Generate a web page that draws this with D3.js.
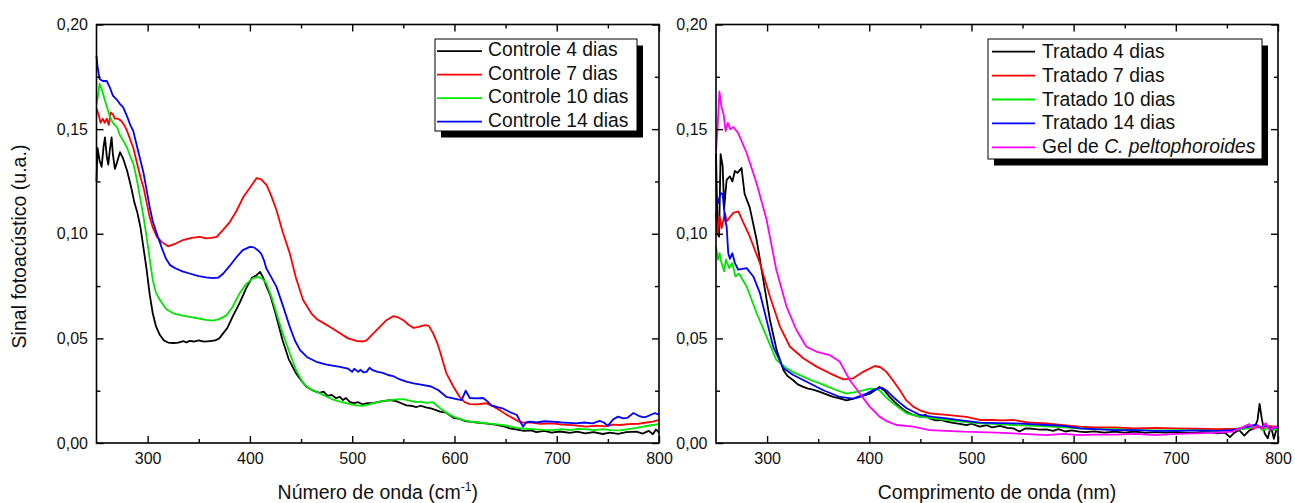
<!DOCTYPE html>
<html lang='pt'>
<head>
  <meta charset='UTF-8'>
  <title>Sinal fotoacústico</title>
  <script src='https://d3js.org/d3.v7.min.js'></script>
  <style>
    body { margin: 0; background: #fff; }
    svg { font-family: 'Liberation Sans', Arial, sans-serif; }
  </style>
</head>
<body>
  <svg width='1295' height='503'></svg>

  <script>
    // [x, sinal]
    var controle4 = [[250,0.125],[251,0.141],[253,0.135],[255,0.132],[257,0.142],[258.3,0.146],[260,0.137],[261.5,0.133],[263,0.14],[264.8,0.146],[266,0.138],[268,0.131],[270,0.134],[273,0.139],[276,0.136],[280,0.130],[284,0.122],[287,0.115],[290,0.110],[293,0.103],[296,0.093],[299,0.083],[302,0.071],[305,0.062],[308,0.056],[312,0.0516],[316,0.049],[320,0.048],[325,0.0478],[330,0.048],[335,0.0487],[338,0.048],[341,0.0488],[345,0.0485],[350,0.049],[355,0.0484],[361,0.0487],[366,0.049],[370,0.050],[374,0.0525],[378,0.055],[383,0.0603],[390,0.067],[397,0.0746],[402,0.079],[406,0.080],[410,0.0818],[413,0.079],[416,0.075],[420,0.0705],[425,0.062],[432,0.049],[438,0.040],[445,0.0334],[450,0.030],[455,0.027],[462,0.025],[468,0.024],[472,0.0245],[476,0.0225],[480,0.023],[484,0.0215],[488,0.022],[491,0.0205],[494,0.0215],[498,0.0195],[502,0.019],[506,0.0195],[510,0.0185],[515,0.019],[520,0.019],[525,0.0195],[530,0.020],[537,0.0205],[543,0.020],[548,0.019],[553,0.018],[558,0.0178],[563,0.0172],[567,0.0178],[572,0.017],[577,0.0165],[582,0.0157],[586,0.015],[592,0.0145],[599,0.012],[605,0.0115],[610,0.0105],[615,0.0102],[622,0.0098],[630,0.0094],[640,0.0088],[648,0.008],[654,0.007],[660,0.0065],[668,0.0058],[675,0.006],[680,0.0052],[688,0.0058],[695,0.005],[703,0.0055],[713,0.0048],[720,0.0054],[728,0.0046],[736,0.0052],[745,0.0043],[752,0.005],[760,0.0044],[768,0.0052],[778,0.0054],[784,0.0045],[790,0.0058],[794,0.0042],[797,0.0065],[800,0.005]];
    var controle7 = [[250,0.160],[252,0.157],[254,0.153],[256,0.155],[258,0.153],[260,0.155],[262,0.152],[264,0.158],[266,0.157],[268,0.155],[271,0.155],[274,0.154],[277,0.152],[280,0.149],[283,0.145],[286,0.141],[290,0.133],[293,0.127],[296,0.122],[299,0.115],[302,0.108],[305,0.103],[309,0.0985],[314,0.096],[320,0.094],[326,0.095],[334.6,0.097],[343,0.098],[351,0.0985],[357,0.0978],[362,0.098],[367.5,0.0985],[374,0.102],[380.5,0.1057],[387,0.111],[393.6,0.1176],[400,0.122],[406.6,0.1266],[411,0.126],[416.4,0.1232],[421,0.118],[426,0.1112],[432,0.101],[439,0.0906],[445,0.079],[452,0.0683],[460,0.062],[466,0.059],[472,0.0573],[480,0.055],[488,0.0525],[496,0.050],[504,0.0488],[510,0.0485],[514,0.049],[520,0.052],[527,0.0555],[533,0.0585],[540,0.0606],[545,0.060],[550,0.0587],[555,0.0565],[560,0.055],[565,0.0555],[571,0.0563],[575,0.056],[579,0.0525],[583,0.048],[586,0.0435],[592,0.0334],[599,0.0269],[605,0.0221],[610,0.0195],[615,0.0186],[622,0.0185],[631,0.019],[638,0.0175],[644,0.0158],[650,0.0138],[657,0.0119],[662,0.0105],[667,0.0097],[675,0.0098],[684,0.0092],[696,0.0094],[705,0.0088],[715,0.0085],[729,0.0078],[738,0.0083],[748,0.0079],[755,0.0088],[762,0.0086],[770,0.009],[780,0.0092],[788,0.0098],[794,0.0102],[800,0.011]];
    var controle10 = [[250,0.162],[251.5,0.166],[253,0.1717],[255,0.169],[257,0.166],[258,0.164],[260,0.161],[263,0.156],[266,0.153],[270,0.151],[273,0.147],[276,0.1446],[280,0.141],[283,0.137],[286,0.1335],[289,0.127],[292.5,0.1176],[296,0.108],[299,0.0985],[302,0.088],[305,0.078],[308,0.072],[312,0.0683],[318,0.064],[325,0.062],[333,0.061],[341,0.0603],[350,0.0595],[357,0.0588],[364,0.0585],[370,0.0592],[377,0.061],[383,0.065],[390,0.0716],[396,0.0758],[403,0.0788],[408,0.0794],[412,0.0785],[416,0.0764],[421,0.070],[426,0.062],[432,0.0525],[439,0.0429],[445,0.035],[452,0.0286],[458,0.026],[465,0.0245],[472,0.0229],[480,0.021],[488,0.0198],[496,0.0188],[504,0.018],[510,0.0178],[515,0.0182],[520,0.019],[527,0.0198],[533,0.0202],[537,0.0205],[543,0.0208],[550,0.021],[556,0.0202],[562,0.0195],[567,0.0198],[573,0.0192],[579,0.0195],[586,0.0166],[592,0.0145],[599,0.0126],[607,0.0112],[615,0.0102],[623,0.0098],[631,0.0094],[639,0.009],[647,0.0086],[655,0.0078],[664,0.007],[672,0.0068],[680,0.0065],[688,0.0063],[696,0.0062],[705,0.0066],[713,0.0062],[721,0.0068],[729,0.0065],[737,0.0062],[745,0.0066],[753,0.0062],[762,0.006],[770,0.0066],[778,0.0072],[786,0.008],[794,0.0086],[800,0.009]];
    var controle14 = [[250,0.185],[251,0.180],[253,0.174],[256,0.173],[260,0.173],[263,0.170],[266,0.166],[270,0.164],[273,0.162],[276,0.1605],[280,0.156],[283,0.152],[286,0.149],[290,0.141],[293,0.135],[296,0.129],[299,0.121],[302,0.1128],[305,0.106],[309,0.100],[314,0.093],[318,0.088],[322,0.085],[327,0.0835],[334,0.082],[341,0.081],[350,0.0798],[357,0.0792],[364,0.0788],[369,0.079],[374,0.081],[380,0.0845],[387,0.0889],[393,0.0922],[400,0.0937],[404,0.0935],[408,0.092],[411,0.0905],[414,0.087],[416,0.0835],[420,0.080],[426,0.0746],[432,0.066],[439,0.0555],[444,0.049],[449,0.0444],[456,0.041],[465,0.0388],[475,0.0375],[488,0.0364],[496,0.0355],[500,0.034],[502,0.0355],[506,0.034],[508,0.035],[511,0.0338],[514,0.034],[517,0.036],[520,0.0348],[525,0.034],[530,0.0335],[535,0.0325],[540,0.032],[546,0.0305],[553,0.0293],[560,0.0285],[570,0.0277],[577,0.027],[584,0.0253],[592,0.0221],[602,0.021],[607,0.0205],[611,0.025],[615,0.0215],[622,0.0213],[628,0.0215],[632,0.020],[636,0.018],[642,0.0172],[647,0.0166],[654,0.0148],[661,0.0134],[664,0.0105],[667,0.0078],[670,0.0098],[674,0.0102],[680,0.0098],[688,0.0104],[696,0.0102],[705,0.0098],[712,0.0096],[719,0.0094],[727,0.0098],[735,0.0094],[742,0.0106],[746,0.0098],[750,0.0082],[755,0.0112],[760,0.0126],[765,0.0118],[769,0.012],[775,0.0143],[780,0.013],[785,0.0122],[788,0.0126],[792,0.0135],[796,0.0143],[800,0.0135]];

    var tratado4 = [[250,0.1386],[251.6,0.100],[253,0.0986],[254.5,0.138],[256.5,0.1323],[258,0.1122],[260.4,0.1258],[263.6,0.1274],[266,0.125],[268.5,0.130],[271,0.1291],[275,0.1314],[278,0.119],[283,0.1126],[289.8,0.097],[296.3,0.078],[302.8,0.0588],[309.4,0.0444],[316,0.0348],[320,0.032],[325.6,0.030],[330,0.028],[335.4,0.0268],[340,0.026],[345,0.0255],[351.7,0.0244],[358,0.0232],[364.7,0.022],[370,0.0215],[377.8,0.0204],[383,0.021],[390.8,0.022],[400.5,0.0236],[405,0.025],[410,0.0268],[415,0.025],[420,0.022],[425,0.0195],[430,0.0174],[436,0.015],[443,0.0134],[450,0.0125],[455,0.0135],[459,0.0118],[465,0.0108],[470,0.011],[475.7,0.0102],[482,0.0096],[490,0.009],[495,0.0085],[500,0.0092],[508,0.0078],[515,0.0085],[520,0.0075],[528,0.0082],[535,0.0072],[541,0.007],[547,0.0055],[553,0.007],[560,0.0068],[567,0.0064],[573,0.0065],[580,0.0058],[585,0.0066],[592,0.0055],[598,0.006],[605.6,0.0054],[612,0.0052],[620,0.0056],[630,0.005],[640,0.0054],[650,0.005],[660,0.0055],[670,0.0048],[680,0.0052],[690,0.005],[700,0.0053],[710,0.0048],[720,0.005],[730,0.0055],[740,0.0046],[748,0.005],[753,0.0028],[757,0.0048],[762,0.0062],[767,0.0035],[772,0.006],[777,0.0072],[780,0.011],[782,0.0187],[784,0.012],[787,0.0045],[790,0.0023],[793,0.008],[796,0.002],[799,0.0075],[800,0.0065]];
    var tratado7 = [[250,0.1107],[251.6,0.100],[253.5,0.1083],[255.5,0.1027],[258.8,0.110],[260.4,0.1059],[263.6,0.108],[267,0.110],[271.8,0.1107],[277,0.1051],[283,0.0987],[293,0.0859],[302.8,0.070],[312.6,0.0556],[322.4,0.046],[335.4,0.0405],[348.4,0.0365],[361.5,0.0333],[374.5,0.0304],[384.3,0.0309],[394,0.034],[405.4,0.0368],[411,0.0362],[416.8,0.034],[423,0.030],[430,0.0252],[436,0.0205],[443,0.0174],[450,0.0155],[459,0.0142],[467,0.0138],[475.7,0.0134],[485,0.013],[495,0.0125],[508,0.011],[520,0.011],[530,0.0108],[541,0.011],[555,0.0098],[573,0.0094],[590,0.0085],[605.6,0.0078],[620,0.0074],[640,0.0074],[660,0.007],[680,0.0072],[700,0.007],[720,0.0068],[740,0.0066],[760,0.0068],[780,0.0075],[790,0.008],[800,0.0078]];
    var tratado10 = [[250,0.0939],[252,0.0876],[253.5,0.0907],[255,0.0868],[258,0.082],[259.7,0.0876],[263,0.0836],[266,0.086],[269,0.0796],[272.5,0.081],[280,0.0748],[289.8,0.062],[299.5,0.0508],[309,0.0397],[319,0.0357],[327,0.0335],[335.4,0.0317],[343,0.030],[351.7,0.0285],[360,0.0268],[368,0.0252],[377.8,0.0236],[387.6,0.0244],[394,0.0252],[400.5,0.026],[405,0.0258],[410,0.0252],[416,0.022],[423.4,0.019],[430,0.0165],[436.5,0.0142],[449.5,0.0126],[462,0.0118],[475.7,0.011],[490,0.0102],[508,0.0094],[525,0.009],[541,0.0086],[555,0.0083],[573,0.008],[590,0.0075],[605.6,0.007],[620,0.0066],[640,0.0066],[660,0.0062],[680,0.006],[700,0.0062],[720,0.006],[740,0.0058],[755,0.006],[765,0.0066],[775,0.0075],[780,0.0085],[785,0.006],[790,0.0072],[795,0.0062],[800,0.0068]];
    var tratado14 = [[250,0.1163],[252,0.1147],[254.5,0.1195],[256.5,0.119],[258.8,0.1067],[260.4,0.1036],[262,0.0907],[263.6,0.088],[266,0.0907],[268.5,0.086],[271.8,0.0828],[280,0.0836],[286.5,0.0796],[293,0.0716],[299.5,0.0588],[306,0.046],[316,0.0357],[325.6,0.0325],[338.7,0.0293],[355,0.0252],[371.3,0.022],[384.3,0.0212],[397.3,0.0236],[405,0.0255],[412,0.0265],[417,0.025],[423.4,0.022],[430,0.0192],[436.5,0.0166],[449.5,0.0134],[462,0.0125],[475.7,0.0118],[490,0.0108],[508,0.0097],[525,0.0095],[541,0.0094],[557,0.009],[573,0.0086],[590,0.0082],[605.6,0.007],[620,0.0066],[640,0.0062],[660,0.0062],[680,0.0058],[700,0.0058],[720,0.006],[740,0.0058],[755,0.0062],[765,0.0072],[772,0.008],[778,0.0088],[783,0.0075],[788,0.0082],[793,0.0068],[800,0.0078]];
    var gel = [[250,0.1394],[251.5,0.15],[253.3,0.168],[255.5,0.1603],[257.5,0.157],[259.4,0.149],[261.5,0.153],[264,0.15],[267,0.151],[271.8,0.148],[280,0.1386],[289.8,0.124],[299.5,0.1067],[309,0.0828],[319,0.0652],[328.7,0.054],[338.5,0.046],[348,0.0437],[361,0.042],[371,0.0389],[381,0.030],[390.6,0.0238],[400.4,0.0174],[410,0.0126],[418,0.0102],[426.6,0.0086],[443,0.0078],[459,0.0062],[475,0.0058],[492,0.0054],[508,0.0052],[524.5,0.005],[540,0.0046],[555,0.0042],[573,0.0038],[590,0.0044],[605.6,0.0038],[620,0.004],[640,0.004],[660,0.0044],[680,0.0038],[700,0.0044],[720,0.0046],[740,0.005],[755,0.0054],[765,0.0075],[772,0.009],[776,0.0065],[780,0.0085],[784,0.0068],[788,0.0095],[792,0.0062],[796,0.0078],[800,0.007]];

    var xTicks = [300, 400, 500, 600, 700, 800];
    var xMinor = [350, 450, 550, 650, 750];
    var yTicks = [0, 0.05, 0.10, 0.15, 0.20];
    var yMinor = [0.025, 0.075, 0.125, 0.175];

    var leftNames = ['Controle 4 dias', 'Controle 7 dias', 'Controle 10 dias', 'Controle 14 dias'];
    var rightNames = ['Tratado 4 dias', 'Tratado 7 dias', 'Tratado 10 dias', 'Tratado 14 dias', 'Gel de C. peltophoroides'];
    var colors = ['#000000', '#ff0000', '#00e600', '#0000ff', '#ff00ff'];

    var svg = d3.select('svg');
    var fmt = d => d3.format('.2f')(d).replace('.', ',');

    function panel(left, right, series, names, xTitle, legend) {
      var top = 24.5, bottom = 443;
      var x = d3.scaleLinear().domain([250, 800]).range([left, right]);
      var y = d3.scaleLinear().domain([0, 0.20]).range([bottom, top]);
      var g = svg.append('g');

      var line = d3.line().x(d => x(d[0])).y(d => y(d[1]));
      series.forEach((s, i) => {
        g.append('path')
          .datum(s)
          .attr('fill', 'none')
          .attr('stroke', colors[i])
          .attr('stroke-width', 1.8)
          .attr('stroke-linejoin', 'round')
          .attr('d', line);
      });

      function ax(axis, tr, vals, size, labels, pad) {
        var a = g.append('g').attr('transform', tr)
          .call(axis.tickValues(vals).tickSizeInner(size).tickSizeOuter(0)
            .tickPadding(pad || 8).tickFormat(labels || ''));
        a.select('.domain').remove();
        a.selectAll('line').attr('stroke', '#000').attr('stroke-width', 1.4);
        a.selectAll('text').attr('font-size', 16).attr('fill', '#111')
          .attr('font-family', "'Liberation Sans', Arial, sans-serif");
        return a;
      }
      ax(d3.axisBottom(x), 'translate(0,' + bottom + ')', xTicks, -7, d => d, 10);
      ax(d3.axisBottom(x), 'translate(0,' + bottom + ')', xMinor, -4);
      ax(d3.axisTop(x), 'translate(0,' + top + ')', xTicks, -7);
      ax(d3.axisTop(x), 'translate(0,' + top + ')', xMinor, -4);
      ax(d3.axisLeft(y), 'translate(' + left + ',0)', yTicks, -7, fmt, 8.5);
      ax(d3.axisLeft(y), 'translate(' + left + ',0)', yMinor, -4);
      ax(d3.axisRight(y), 'translate(' + right + ',0)', yTicks, -7);
      ax(d3.axisRight(y), 'translate(' + right + ',0)', yMinor, -4);

      g.append('rect')
        .attr('x', left).attr('y', top)
        .attr('width', right - left).attr('height', bottom - top)
        .attr('fill', 'none').attr('stroke', '#000').attr('stroke-width', 1.6);

      var t = g.append('text')
        .attr('x', (left + right) / 2).attr('y', 499)
        .attr('text-anchor', 'middle')
        .attr('font-size', 19.5).attr('fill', '#111');
      t.append('tspan').text(xTitle[0]);
      if (xTitle[1]) {
        t.append('tspan').attr('font-size', 12).attr('dy', -8).text(xTitle[1]);
        t.append('tspan').attr('dy', 8).text(xTitle[2]);
      }

      // legend box with shadow
      var lg = g.append('g');
      lg.append('rect')
        .attr('x', legend.x + 6).attr('y', legend.y + 6.5)
        .attr('width', legend.w).attr('height', legend.h)
        .attr('fill', '#000');
      lg.append('rect')
        .attr('x', legend.x).attr('y', legend.y)
        .attr('width', legend.w).attr('height', legend.h)
        .attr('fill', '#fff').attr('stroke', '#000').attr('stroke-width', 1);
      names.forEach((n, i) => {
        var ly = legend.y + legend.first + i * legend.step;
        lg.append('line')
          .attr('x1', legend.x + legend.l0).attr('x2', legend.x + legend.l1)
          .attr('y1', ly).attr('y2', ly)
          .attr('stroke', colors[i]).attr('stroke-width', 1.8);
        var tx = lg.append('text')
          .attr('x', legend.x + legend.tx).attr('y', ly + legend.base)
          .attr('font-size', 19.3).attr('fill', '#111');
        if (n.indexOf('C. ') > 0) {
          tx.append('tspan').text('Gel de ');
          tx.append('tspan').attr('font-style', 'italic').text('C. peltophoroides');
        } else {
          tx.text(n);
        }
      });
    }

    panel(96.5, 659, [controle4, controle7, controle10, controle14], leftNames,
      ['Número de onda (cm', '-1', ')'],
      {x: 435, y: 39, w: 202, h: 92, first: 12.2, step: 23.5, base: 5.2, l0: 2, l1: 47, tx: 53});
    panel(716, 1278, [tratado4, tratado7, tratado10, tratado14, gel], rightNames,
      ['Comprimento de onda (nm)'],
      {x: 988, y: 39, w: 274, h: 120, first: 12.7, step: 23.9, base: 6, l0: 4, l1: 47, tx: 54});

    svg.append('text')
      .attr('transform', 'translate(26,246.5) rotate(-90)')
      .attr('text-anchor', 'middle')
      .attr('font-size', 19.5).attr('fill', '#111')
      .text('Sinal fotoacústico (u.a.)');
  </script>
</body>
</html>
